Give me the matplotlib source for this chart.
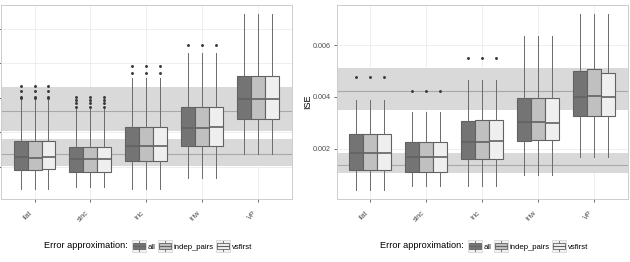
import matplotlib
matplotlib.use('Agg')
import matplotlib.pyplot as plt
from matplotlib.patches import Rectangle, Patch
from matplotlib.lines import Line2D
from matplotlib.legend_handler import HandlerBase

plt.rcParams['font.family'] = ['Liberation Sans', 'DejaVu Sans']

categories = ['flat', 'sinc', 'tric', 'triw', 'VP']
methods = ['all', 'indep_pairs', 'vsfirst']
fills = ['#747474', '#c0c0c0', '#efefef']

# left panel (its tick labels fall outside the reference crop)
left_med = [[0.00255, 0.00243, 0.00320, 0.00423, 0.00595],
            [0.00251, 0.00243, 0.00320, 0.00423, 0.00595],
            [0.00258, 0.00247, 0.00320, 0.00429, 0.00595]]
left_q1 = [[0.00181, 0.00167, 0.00235, 0.00320, 0.00477],
           [0.00181, 0.00167, 0.00235, 0.00320, 0.00477],
           [0.00187, 0.00167, 0.00235, 0.00320, 0.00477]]
left_q3 = [[0.00349, 0.00313, 0.00429, 0.00545, 0.00727],
           [0.00349, 0.00313, 0.00429, 0.00545, 0.00727],
           [0.00349, 0.00313, 0.00429, 0.00545, 0.00730]]
left_whislo = [0.00069, 0.00084, 0.00069, 0.00133, 0.00272]
left_whishi = [0.00585, 0.00537, 0.00714, 0.00859, 0.01087]
left_fliers = [[0.00669, 0.00642, 0.00607, 0.00602],
               [0.00607, 0.00588, 0.00570, 0.00548],
               [0.00746, 0.00787],
               [0.00907],
               []]
left_bands = [(0.00407, 0.00524, 0.00663), (0.00204, 0.00274, 0.00361)]
left_ticks = [0.002, 0.004, 0.006, 0.008, 0.010]

# right panel: ISE
ise_med = [[0.00183, 0.00166, 0.00227, 0.00304, 0.00401],
           [0.00183, 0.00166, 0.00227, 0.00304, 0.00403],
           [0.00182, 0.00168, 0.00228, 0.00298, 0.00400]]
ise_q1 = [[0.00117, 0.00110, 0.00160, 0.00231, 0.00327],
          [0.00117, 0.00110, 0.00159, 0.00232, 0.00327],
          [0.00117, 0.00110, 0.00160, 0.00232, 0.00327]]
ise_q3 = [[0.00257, 0.00227, 0.00308, 0.00395, 0.00502],
          [0.00257, 0.00227, 0.00310, 0.00397, 0.00508],
          [0.00257, 0.00226, 0.00309, 0.00397, 0.00492]]
ise_whislo = [0.00039, 0.00054, 0.00054, 0.00097, 0.00166]
ise_whishi = [0.00390, 0.00342, 0.00466, 0.00637, 0.00722]
ise_fliers = [[0.00478], [0.00423], [0.00550], [], []]
ise_bands = [(0.00350, 0.00423, 0.00513), (0.00103, 0.00135, 0.00181)]
ise_ticks = [0.002, 0.004, 0.006]

W, H = 630, 262
fig = plt.figure(figsize=(6.3, 2.62), dpi=100)
ax_l = fig.add_axes([1 / W, 1 - 199 / H, 290.5 / W, 194 / H])
ax_r = fig.add_axes([336.5 / W, 1 - 199 / H, 291 / W, 194 / H])

line_col = '#626262'


def draw_panel(ax, med, q1, q3, whislo, whishi, fliers, bands, ticks, ylim, show_labels):
    for lo, mid, hi in bands:
        ax.axhspan(lo, hi, color='#d9d9d9', lw=0, zorder=1)
        ax.axhline(mid, color='#a8a8a8', lw=0.8, zorder=1.5)
    offsets = [-0.25, 0, 0.25]
    for m in range(3):
        stats = []
        for c in range(5):
            stats.append(dict(med=med[m][c], q1=q1[m][c], q3=q3[m][c],
                              whislo=whislo[c], whishi=whishi[c],
                              fliers=fliers[c]))
        pos = [c + 1 + offsets[m] for c in range(5)]
        ax.bxp(stats, positions=pos, widths=0.25, patch_artist=True,
               showcaps=False, manage_ticks=False, zorder=3,
               boxprops=dict(facecolor=fills[m], edgecolor=line_col, lw=0.8),
               medianprops=dict(color=line_col, lw=1.2),
               whiskerprops=dict(color='#6a6a6a', lw=0.7),
               flierprops=dict(marker='o', markersize=1.1, markerfacecolor='#3a3a3a',
                               markeredgecolor='#3a3a3a', lw=0))
    ax.set_xlim(0.4, 5.6)
    ax.set_ylim(*ylim)
    ax.set_xticks(range(1, 6))
    ax.set_xticklabels(categories, rotation=45, ha='right', fontsize=5.2, color='#4d4d4d')
    ax.set_yticks(ticks)
    if show_labels:
        ax.set_yticklabels(['%.3f' % t for t in ticks], fontsize=5.2, color='#4d4d4d')
    else:
        ax.set_yticklabels([])
    ax.tick_params(length=2.3, width=0.5, color='#333333')
    ax.tick_params(axis='x', pad=5.5)
    ax.tick_params(axis='y', pad=1.5)
    ax.grid(True, color='#ebebeb', lw=0.6, zorder=0)
    ax.set_axisbelow(True)
    for s in ax.spines.values():
        s.set_color('#cccccc')
        s.set_linewidth(0.7)


draw_panel(ax_l, left_med, left_q1, left_q3, left_whislo, left_whishi,
           left_fliers, left_bands, left_ticks, (0.000124, 0.0114), False)
draw_panel(ax_r, ise_med, ise_q1, ise_q3, ise_whislo, ise_whishi,
           ise_fliers, ise_bands, ise_ticks, (0.00004, 0.00757), True)

fig.text(308 / W, 1 - 102 / H, 'ISE', rotation=90, ha='center', va='center',
         fontsize=6.5, color='black')


class BoxKey(HandlerBase):
    def create_artists(self, legend, orig_handle, xdescent, ydescent,
                       width, height, fontsize, trans):
        x0, y0 = -xdescent, -ydescent
        bg = Rectangle((x0, y0), width, height, facecolor='#f2f2f2',
                       edgecolor='#d0d0d0', lw=0.5, transform=trans)
        cx = x0 + width / 2
        wl = Line2D([cx, cx], [y0 + 0.08 * height, y0 + 0.92 * height],
                    color=line_col, lw=0.6, transform=trans)
        box = Rectangle((x0 + 0.1 * width, y0 + 0.25 * height), 0.8 * width,
                        0.5 * height, facecolor=orig_handle.get_facecolor(),
                        edgecolor=line_col, lw=0.6, transform=trans)
        md = Line2D([x0 + 0.1 * width, x0 + 0.9 * width],
                    [y0 + 0.5 * height, y0 + 0.5 * height],
                    color=line_col, lw=0.8, transform=trans)
        return [bg, wl, box, md]


handles = [Patch(facecolor=f) for f in fills]
for text_right in [128, 464]:
    fig.text(text_right / W, 1 - 246 / H, 'Error approximation:', ha='right',
             va='center', fontsize=6.6, color='black')
    fig.legend(handles, methods, handler_map={Patch: BoxKey()},
               loc='center left', bbox_to_anchor=((text_right + 4) / W, 1 - 246 / H),
               ncol=3, frameon=False, fontsize=5.6, handlelength=1.8,
               handleheight=1.8, handletextpad=0.26, columnspacing=0.26,
               borderpad=0, borderaxespad=0)

fig.savefig('out.png', dpi=100)
